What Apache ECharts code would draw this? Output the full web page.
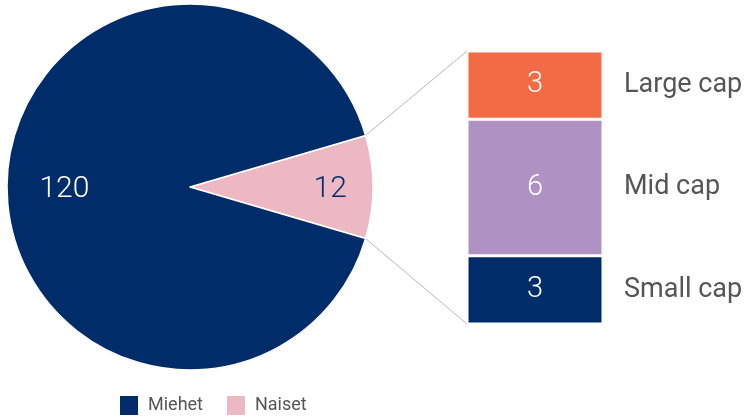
<!DOCTYPE html>
<html>
<head>
<meta charset="utf-8">
<script src="https://cdn.jsdelivr.net/npm/echarts@6/dist/echarts.min.js"></script>
<style>
  html, body { margin: 0; padding: 0; background: #fff; }
  #chart { width: 746px; height: 417px; }
</style>
</head>
<body>
<div id="chart"></div>
<script>
// pie data
const pieNames = ['Naiset', 'Miehet'];
const pieValues = [12, 120];
const legendOrder = ['Miehet', 'Naiset'];

// breakdown of the Naiset slice, bottom to top
const capNames = ['Small cap', 'Mid cap', 'Large cap'];
const capValues = [3, 6, 3];

const NAVY = '#002d6a';
const PINK = '#ecb8c4';
const ORANGE = '#f26b45';
const PURPLE = '#b091c3';
const TEXT = '#555555';
const FONT = 'Roboto, sans-serif';

const pieColors = { Naiset: PINK, Miehet: NAVY };
const capColors = { 'Small cap': NAVY, 'Mid cap': PURPLE, 'Large cap': ORANGE };

/* layout */
const CX = 190, CY = 187, R = 183;
const BAR_LEFT = 467, BAR_TOP = 51, BAR_W = 136, BAR_H = 273;

const total = pieValues.reduce((a, b) => a + b, 0);
const halfAngle = pieValues[0] / total * 180; // half of the Naiset slice, degrees
const capTotal = capValues.reduce((a, b) => a + b, 0);

// connector lines from slice edge to bar corners
const rad = halfAngle * Math.PI / 180;
const edgeX = CX + R * Math.cos(rad);
const edgeTopY = CY - R * Math.sin(rad);
const edgeBotY = CY + R * Math.sin(rad);

// push pie labels outward a bit (fraction of radius, from 0.5 default)
const labelShift = { Naiset: 0.25, Miehet: 0.17 };

const chart = echarts.init(document.getElementById('chart'));

const barSeries = capNames.map((name, i) => ({
  name: name,
  type: 'bar',
  stack: 'caps',
  barWidth: '100%',
  data: [capValues[i]],
  itemStyle: { color: capColors[name], borderColor: '#fff', borderWidth: 1.5 },
  label: {
    show: true,
    position: 'inside',
    color: '#fff',
    fontFamily: FONT,
    fontSize: 29,
    fontWeight: 300,
    formatter: '{c}'
  },
  emphasis: { disabled: true },
  z: 3
}));

// invisible twin stack carrying the category names at the right
const nameSeries = capNames.map((name, i) => ({
  name: name + '_lbl',
  type: 'bar',
  stack: 'names',
  barWidth: '100%',
  barGap: '-100%',
  data: [capValues[i]],
  itemStyle: { color: 'transparent' },
  label: {
    show: true,
    position: 'right',
    distance: 21,
    color: TEXT,
    fontFamily: FONT,
    fontSize: 27,
    formatter: name
  },
  emphasis: { disabled: true },
  silent: true,
  z: 2
}));

chart.setOption({
  animation: false,
  backgroundColor: '#fff',
  legend: {
    data: legendOrder,
    left: 113,
    top: 389,
    itemWidth: 20,
    itemHeight: 21,
    itemGap: 22,
    icon: 'rect',
    textStyle: { color: TEXT, fontFamily: FONT, fontSize: 18, padding: [0, 0, 0, 4] }
  },
  grid: { left: BAR_LEFT, top: BAR_TOP, width: BAR_W, height: BAR_H },
  xAxis: { type: 'category', data: [''], show: false },
  yAxis: { type: 'value', min: 0, max: capTotal, show: false },
  graphic: [
    {
      type: 'line',
      shape: { x1: edgeX, y1: edgeTopY, x2: BAR_LEFT, y2: BAR_TOP },
      style: { stroke: '#b8b8b8', lineWidth: 1 },
      z: 1
    },
    {
      type: 'line',
      shape: { x1: edgeX, y1: edgeBotY, x2: BAR_LEFT, y2: BAR_TOP + BAR_H },
      style: { stroke: '#b8b8b8', lineWidth: 1 },
      z: 1
    }
  ],
  series: [
    {
      type: 'pie',
      center: [CX, CY],
      radius: [0, R],
      startAngle: halfAngle,
      clockwise: true,
      data: pieNames.map((n, i) => ({
        name: n,
        value: pieValues[i],
        itemStyle: { color: pieColors[n] },
        label: { color: n === 'Naiset' ? NAVY : '#fff' }
      })),
      itemStyle: { borderColor: '#fff', borderWidth: 1.5 },
      label: {
        show: true,
        position: 'inner',
        fontFamily: FONT,
        fontSize: 30,
        fontWeight: 300,
        formatter: '{c}'
      },
      labelLine: { show: false },
      labelLayout: function (p) {
        const n = pieNames[p.dataIndex];
        const dir = n === 'Naiset' ? 1 : -1;
        return { dx: dir * labelShift[n] * R, dy: 2 };
      },
      emphasis: { disabled: true }
    }
  ].concat(barSeries, nameSeries)
});
</script>
</body>
</html>
